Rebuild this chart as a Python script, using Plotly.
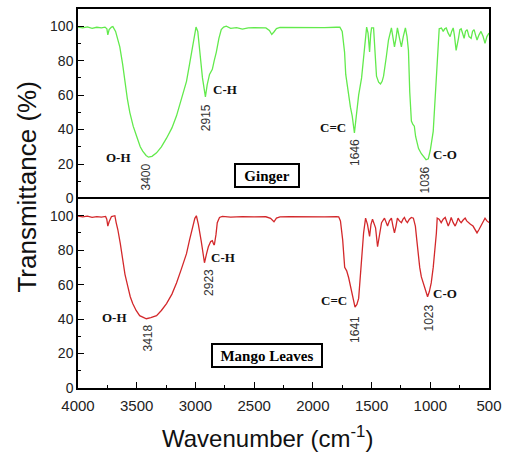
import plotly.graph_objects as go

# FTIR transmittance spectra (wavenumber in cm^-1, transmittance in %)
ginger_wn = [4000, 3960, 3920, 3880, 3840, 3800, 3770, 3754, 3746, 3735, 3715, 3703, 3680, 3669,
             3644, 3620, 3602, 3580, 3559, 3530, 3500, 3470, 3449, 3420, 3400, 3370, 3331, 3290,
             3246, 3200, 3161, 3120, 3076, 3050, 3025, 3005, 2995, 2980, 2960, 2940, 2915, 2900,
             2880, 2856, 2840, 2822, 2800, 2780, 2760, 2737, 2700, 2650, 2600, 2550, 2500, 2450,
             2400, 2370, 2350, 2330, 2310, 2280, 2200, 2100, 2000, 1900, 1800, 1770, 1750, 1730,
             1720, 1700, 1680, 1665, 1646, 1630, 1610, 1585, 1560, 1542, 1530, 1517, 1508, 1500,
             1483, 1470, 1458, 1440, 1424, 1410, 1398, 1375, 1356, 1331, 1318, 1305, 1292, 1280,
             1262, 1246, 1230, 1212, 1198, 1186, 1175, 1161, 1148, 1136, 1125, 1100, 1076, 1055,
             1036, 1017, 1000, 975, 960, 949, 935, 924, 905, 890, 877, 864, 848, 831, 818, 805,
             795, 780, 760, 748, 737, 725, 712, 700, 686, 670, 652, 640, 627, 615, 602, 585, 568,
             550, 534, 518, 500]
ginger_t = [99.5, 99, 99.6, 98.8, 99.4, 99, 99.5, 98.5, 95, 98, 99.5, 99.8, 97, 94,
            88, 78, 68, 58, 50, 42, 36, 30, 27.5, 25, 24, 24.5, 26.5, 30,
            35, 41, 48, 57, 68, 78, 89, 97, 99.5, 97, 84, 70, 59, 66,
            72, 75, 80, 85, 93, 98, 99.5, 100, 98.8, 99.2, 98.3, 99, 99.2, 98.9,
            99, 97.5, 95.2, 96.8, 98.6, 99.3, 99.2, 99.4, 99.3, 99.2, 99.4, 99.5, 97, 85,
            72, 62, 53, 48, 38, 48, 60, 70, 88, 99.5, 96, 85, 95, 99,
            99, 85, 71, 67.5, 66.5, 68, 71, 82, 92, 99, 93, 88, 93, 99,
            93, 88, 94, 99, 94, 86, 62, 45, 43, 42, 36, 29, 26, 24,
            22.5, 23, 28, 39, 55, 68, 88, 98.5, 99, 97, 98.5, 99, 96, 94, 97, 99,
            95, 86, 93, 98, 98.5, 95, 93, 97, 98, 94, 93, 97, 98, 95, 92, 95, 97,
            94, 90, 94, 96]

mango_wn = [4000, 3960, 3920, 3880, 3840, 3800, 3765, 3755, 3746, 3735, 3715, 3686, 3675, 3661,
            3640, 3619, 3600, 3576, 3555, 3534, 3505, 3475, 3445, 3418, 3380, 3331, 3290, 3246,
            3200, 3161, 3120, 3076, 3050, 3025, 3005, 2992, 2975, 2950, 2935, 2923, 2905, 2890,
            2870, 2856, 2845, 2839, 2825, 2814, 2795, 2771, 2700, 2600, 2500, 2400, 2360, 2331,
            2310, 2280, 2200, 2100, 2000, 1900, 1800, 1780, 1765, 1746, 1729, 1712, 1695, 1678,
            1660, 1641, 1625, 1610, 1590, 1568, 1551, 1535, 1517, 1505, 1492, 1480, 1466, 1449,
            1432, 1415, 1390, 1377, 1364, 1348, 1331, 1318, 1305, 1292, 1280, 1263, 1246, 1232,
            1220, 1207, 1195, 1178, 1161, 1144, 1127, 1115, 1102, 1090, 1076, 1060, 1042, 1023,
            1008, 992, 975, 958, 948, 941, 925, 907, 890, 873, 860, 847, 835, 822, 805, 788,
            775, 763, 750, 737, 720, 703, 690, 678, 658, 636, 620, 602, 585, 568, 550, 534,
            518, 500]
mango_t = [99.8, 99.3, 99.8, 99, 99.5, 99.2, 99.6, 98, 94, 96.5, 99.5, 100, 96, 92,
           84, 74, 66, 59, 53, 49, 45, 42, 40.8, 40.2, 40.8, 42, 45, 49,
           54.5, 61, 69, 78, 86, 94, 98.5, 100, 95, 85, 78, 72.7, 78, 82,
           85, 85.5, 83.5, 83, 89, 96, 99, 99.6, 99.2, 99.5, 99.3, 99.4, 98.5, 96.5,
           98.6, 99.3, 99.4, 99.3, 99.5, 99.3, 99.5, 99.4, 97, 86, 70, 68, 64, 59,
           53, 47, 48.5, 52, 70, 90, 98.6, 95, 88, 95, 98, 96, 93, 82,
           90, 96, 98.6, 96, 94, 97, 98.6, 94, 90, 94, 98.6, 97, 96, 98,
           99, 97, 96, 98, 99, 98.6, 94, 86, 76, 70, 64.5, 61, 58.4, 53,
           56, 61, 70, 80.5, 90, 98.6, 98, 96, 98, 99, 96, 94, 96, 99, 96, 94,
           96, 98.6, 97, 96, 97.5, 98.6, 97, 96, 95, 94, 92, 90, 92, 94, 96.5, 98.6,
           97, 96]

# Band assignments: (label, wavenumber position, transmittance position)
ginger_bands = [("O-H", 3653, 24), ("C-H", 2749, 63), ("C=C", 1827, 41.5), ("C-O", 872, 25.3)]
ginger_peaks = [("3400", 3425, 12.5), ("2915", 2909, 46.7), ("1646", 1641, 26.4), ("1036", 1041, 10.7)]
mango_bands = [("O-H", 3687, 41.2), ("C-H", 2766, 75.5), ("C=C", 1819, 51), ("C-O", 872, 55)]
mango_peaks = [("3418", 3400, 29), ("2923", 2884, 61), ("1641", 1641, 33.7), ("1023", 1007, 40.6)]

GREEN = "#62ea4c"
RED = "#d3282b"
SERIF = "Liberation Serif, Times New Roman, serif"
SANS = "Arial, Liberation Sans, sans-serif"

fig = go.Figure()
fig.add_trace(go.Scatter(x=ginger_wn, y=ginger_t, mode="lines", line=dict(color=GREEN, width=1.3),
                         xaxis="x2", yaxis="y2", showlegend=False, hoverinfo="skip"))
fig.add_trace(go.Scatter(x=mango_wn, y=mango_t, mode="lines", line=dict(color=RED, width=1.3),
                         xaxis="x", yaxis="y", showlegend=False, hoverinfo="skip"))

annotations = []
for bands, peaks, xref, yref in [(ginger_bands, ginger_peaks, "x2", "y2"),
                                 (mango_bands, mango_peaks, "x", "y")]:
    for txt, x, y in bands:
        annotations.append(dict(text="<b>" + txt + "</b>", x=x, y=y, xref=xref, yref=yref,
                                showarrow=False, font=dict(family=SERIF, size=13, color="#111")))
    for txt, x, y in peaks:
        annotations.append(dict(text=txt, x=x, y=y, xref=xref, yref=yref, showarrow=False,
                                font=dict(family=SANS, size=12, color="#333"), textangle=-90))

annotations.append(dict(text="<b>Ginger</b>", x=2394, y=13.4, xref="x2", yref="y2", showarrow=False,
                        font=dict(family=SERIF, size=15, color="#000"), bordercolor="#000",
                        borderwidth=2, borderpad=1, bgcolor="white", width=60, height=19))
annotations.append(dict(text="<b>Mango Leaves</b>", x=2394, y=18.9, xref="x", yref="y", showarrow=False,
                        font=dict(family=SERIF, size=15, color="#000"), bordercolor="#000",
                        borderwidth=2, borderpad=1, bgcolor="white", width=106, height=19))

annotations.append(dict(text="Transmittance (%)", x=-0.123, y=0.53, xref="paper", yref="paper",
                        xanchor="center", yanchor="middle", showarrow=False, textangle=-90,
                        font=dict(family=SANS, size=26, color="#111")))
annotations.append(dict(text="Wavenumber (cm<sup>-1</sup>)", x=0.46, y=-0.129, xref="paper",
                        yref="paper", xanchor="center", yanchor="middle", showarrow=False,
                        font=dict(family=SANS, size=24, color="#111")))

axis_common = dict(showline=True, linecolor="#000", linewidth=1.5, showgrid=False, zeroline=False)
ytick_common = dict(tickvals=[0, 20, 40, 60, 80, 100], ticks="inside", ticklen=6, tickwidth=1.2,
                    tickcolor="#000", tickfont=dict(family=SANS, size=14, color="#222"),
                    minor=dict(tickvals=[10, 30, 50, 70, 90], ticks="inside", ticklen=3,
                               tickwidth=1.2, tickcolor="#000"))

fig.update_layout(
    width=511, height=452,
    margin=dict(l=78, r=19, t=9, b=64),
    paper_bgcolor="white", plot_bgcolor="white",
    xaxis=dict(**axis_common, mirror=True, range=[4000, 500], domain=[0, 1], anchor="y",
               tickmode="array", tickvals=[4000, 3500, 3000, 2500, 2000, 1500, 1000, 500],
               ticks="inside", ticklen=6, tickwidth=1.2, tickcolor="#000", ticklabelstandoff=3,
               tickfont=dict(family=SANS, size=15, color="#222"),
               minor=dict(tickvals=[3750, 3250, 2750, 2250, 1750, 1250, 750], ticks="inside",
                          ticklen=3, tickwidth=1.2, tickcolor="#000")),
    yaxis=dict(**axis_common, mirror=True, range=[0, 110], domain=[0, 0.5], anchor="x",
               **ytick_common),
    # top panel: its x-axis line is drawn along the top edge only; the divider comes from the lower panel
    xaxis2=dict(**axis_common, mirror=False, side="top", range=[4000, 500], domain=[0, 1],
                anchor="y2", matches="x", showticklabels=False, ticks=""),
    yaxis2=dict(**axis_common, mirror=True, range=[0, 110], domain=[0.5, 1], anchor="x2",
                **ytick_common),
    annotations=annotations,
)

fig.write_html("out.html")
